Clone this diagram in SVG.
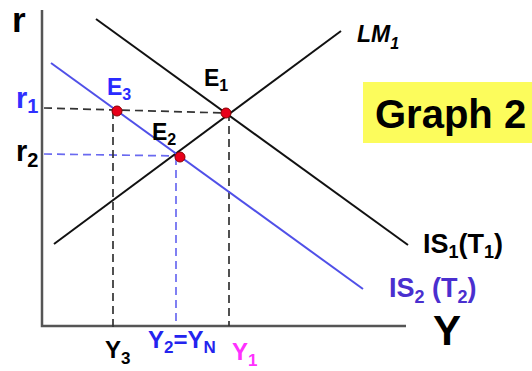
<svg xmlns="http://www.w3.org/2000/svg" width="532" height="371" viewBox="0 0 532 371">
<style>
text{font-family:"Liberation Sans",Arial,sans-serif;font-weight:bold}
.axis{stroke:#555;stroke-width:2.5;fill:none}
.curve{stroke:#111;stroke-width:2;fill:none}
.blue{stroke:#5050e8;stroke-width:2;fill:none}
.dk{stroke:#333;stroke-width:1.7;stroke-dasharray:8 5;fill:none}
.db{stroke:#6a6af0;stroke-width:1.7;stroke-dasharray:8 5;fill:none}
.dot{fill:#e8001a;stroke:#8a0000;stroke-width:1}
</style>
<rect width="532" height="371" fill="#fff"/>
<g id="axes">
<path class="axis" d="M42,10 V326 H406"/>
<text x="12" y="32" font-size="35">r</text>
<text x="433" y="345" font-size="42">Y</text>
</g>
<g id="connectors">
<path class="dk" d="M44,108 L226,113"/>
<path class="db" d="M44,154 L180,156"/>
<path class="dk" d="M113,111 V330"/>
<path class="db" d="M176,157 V325"/>
<path class="dk" d="M229,113 V326"/>
</g>
<g id="LM1">
<path class="curve" d="M54,244 L341,31"/>
<text x="357" y="42" font-size="23" font-style="italic">LM<tspan font-size="16" dy="7">1</tspan></text>
</g>
<g id="IS1">
<path class="curve" d="M96,19 L408,245"/>
<text x="423" y="253" font-size="27">IS<tspan font-size="18" dy="5">1</tspan><tspan dy="-5">(T</tspan><tspan font-size="18" dy="5">1</tspan><tspan dy="-5">)</tspan></text>
</g>
<g id="IS2">
<path class="blue" d="M51,63 L363,289"/>
<text x="389" y="297" font-size="27" fill="#4a2fcf">IS<tspan font-size="18" dy="6">2</tspan><tspan dy="-6"> (T</tspan><tspan font-size="18" dy="6">2</tspan><tspan dy="-6">)</tspan></text>
</g>
<g id="E1">
<circle class="dot" cx="226" cy="113" r="5"/>
<text x="204" y="86" font-size="23">E<tspan font-size="16" dy="5">1</tspan></text>
</g>
<g id="E2">
<circle class="dot" cx="180" cy="157" r="5"/>
<text x="152" y="140" font-size="23">E<tspan font-size="16" dy="5">2</tspan></text>
</g>
<g id="E3">
<circle class="dot" cx="117" cy="111" r="5"/>
<text x="107" y="95" font-size="23" fill="#2a2aff">E<tspan font-size="16" dy="5">3</tspan></text>
</g>
<g id="r1">
<text x="16" y="108" font-size="29" fill="#3030ff">r<tspan font-size="20" dy="5">1</tspan></text>
</g>
<g id="r2">
<text x="16" y="161" font-size="29">r<tspan font-size="20" dy="6">2</tspan></text>
</g>
<g id="Y3">
<text x="105" y="358" font-size="24">Y<tspan font-size="17" dy="6">3</tspan></text>
</g>
<g id="Y2YN">
<text x="148" y="348" font-size="24" fill="#2424ee">Y<tspan font-size="17" dy="5">2</tspan><tspan dy="-5">=Y</tspan><tspan font-size="17" dy="5">N</tspan></text>
</g>
<g id="Y1">
<text x="232" y="360" font-size="24" fill="#ff30ff">Y<tspan font-size="17" dy="6">1</tspan></text>
</g>
<g id="graph2">
<rect x="363" y="82" width="169" height="61" fill="#fcfc5c"/>
<text x="375" y="128" font-size="40">Graph 2</text>
</g>
</svg>
